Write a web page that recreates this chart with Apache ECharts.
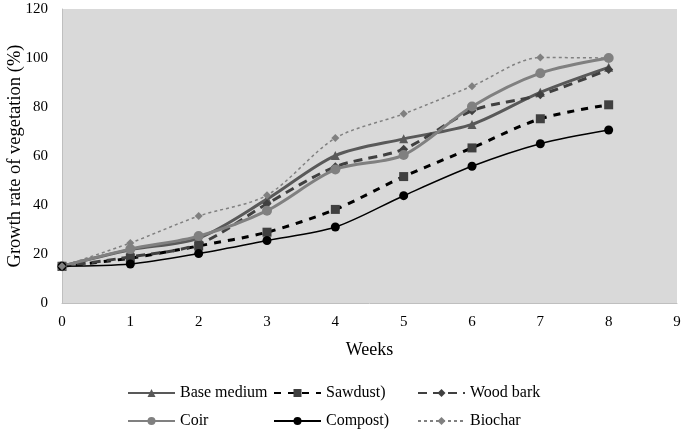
<!DOCTYPE html>
<html><head><meta charset="utf-8">
<script src="https://cdn.jsdelivr.net/npm/echarts@6/dist/echarts.min.js"></script>
<style>html,body{margin:0;padding:0;background:#fff}#c{width:685px;height:433px}</style>
</head><body><div id="c"></div>
<script>
const weeks = [0,1,2,3,4,5,6,7,8];
const baseMedium = [15,21.7,26.5,42.4,60.2,67,72.9,86,96.2];
const sawdust = [15,18.3,23.3,28.9,38.2,51.6,63.3,75.2,80.9];
const woodBark = [15,18.8,24,40.5,55.6,62.8,78.5,85,95.3];
const coir = [15,22,27.3,37.7,54.5,60.4,80.2,93.8,100];
const compost = [15,15.9,20.2,25.5,31,43.8,55.8,65,70.6];
const biochar = [15,24.5,35.5,44,67.3,77.2,88.5,100.2,100];
const seriesNames = ['Base medium','Sawdust)','Wood bark','Coir','Compost)','Biochar'];

const font = 'Liberation Serif';
const pairs = arr => weeks.map((w,i)=>[w,arr[i]]);

const defs = [
  {name:seriesNames[0], data:baseMedium, color:'#595959', width:3, type:'solid', symbol:'triangle', size:9},
  {name:seriesNames[1], data:sawdust, color:'#000000', sym:'#404040', width:3, type:[7,7], symbol:'rect', size:9},
  {name:seriesNames[2], data:woodBark, color:'#404040', width:3, type:[9,6], symbol:'diamond', size:9},
  {name:seriesNames[3], data:coir, color:'#808080', width:3, type:'solid', symbol:'circle', size:10},
  {name:seriesNames[4], data:compost, color:'#000000', width:1.5, type:'solid', symbol:'circle', size:9},
  {name:seriesNames[5], data:biochar, color:'#808080', width:1.5, type:[3,3], symbol:'diamond', size:8}
];

const series = defs.map(d=>({
  name:d.name, type:'line', smooth:0.3, data:pairs(d.data),
  symbol:d.symbol, symbolSize:d.size,
  lineStyle:{color:d.color, width:d.width, type:d.type},
  itemStyle:{color:d.sym||d.color, borderWidth:0},
  z: 10
}));

const legPos = [[127,385],[273,385],[417,385],[127,413],[273,413],[417,413]];
const legends = defs.map((d,i)=>({
  data:[d.name], left:legPos[i][0], top:legPos[i][1], itemWidth:47, itemHeight:10, itemGap:5,
  textStyle:{fontFamily:font, fontSize:16, color:'#000'}, padding:0
}));

const chart = echarts.init(document.getElementById('c'), null, {renderer:'canvas'});
chart.setOption({
  animation:false,
  backgroundColor:'#fff',
  grid:{left:62, right:8, top:9, bottom:130, show:true, backgroundColor:'#d9d9d9', borderWidth:0,
    containLabel:false, outerBoundsMode:'none'},
  legend:legends,
  xAxis:{type:'value', min:0, max:9, interval:1, name:'Weeks', nameLocation:'middle', nameGap:38,
    nameMoveOverlap:false,
    nameTextStyle:{fontFamily:font, fontSize:18, color:'#000'},
    axisLine:{show:true, lineStyle:{color:'#bfbfbf', width:1}}, axisTick:{show:false}, splitLine:{show:false},
    axisLabel:{fontFamily:font, fontSize:15, color:'#000', margin:12}},
  yAxis:{type:'value', min:0, max:120, interval:20, name:'Growth rate of vegetation (%)', nameLocation:'middle', nameGap:37,
    nameMoveOverlap:false,
    nameTextStyle:{fontFamily:font, fontSize:18.5, color:'#000'},
    axisLine:{show:true, lineStyle:{color:'#bfbfbf', width:1}}, axisTick:{show:false}, splitLine:{show:false},
    axisLabel:{fontFamily:font, fontSize:15, color:'#000', margin:14}},
  series:series
});
</script></body></html>
